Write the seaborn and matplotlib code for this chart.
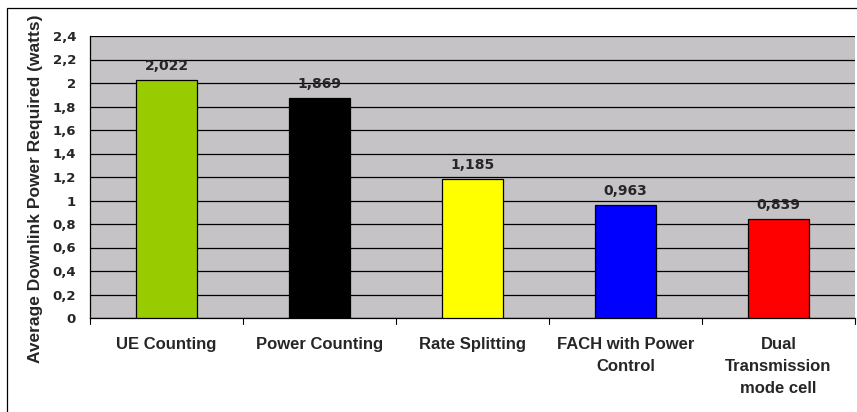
import matplotlib
matplotlib.use("Agg")
import matplotlib.pyplot as plt
import seaborn as sns
import pandas as pd
from matplotlib.patches import Rectangle

categories = ["UE Counting", "Power Counting", "Rate Splitting",
              "FACH with Power\nControl", "Dual\nTransmission\nmode cell"]
values = [2.022, 1.869, 1.185, 0.963, 0.839]
bar_colors = ["#99CC00", "#000000", "#FFFF00", "#0000FF", "#FF0000"]
value_labels = ["2,022", "1,869", "1,185", "0,963", "0,839"]
y_ticks = [0, 0.2, 0.4, 0.6, 0.8, 1.0, 1.2, 1.4, 1.6, 1.8, 2.0, 2.2, 2.4]
y_tick_labels = ["0", "0,2", "0,4", "0,6", "0,8", "1", "1,2", "1,4",
                 "1,6", "1,8", "2", "2,2", "2,4"]

sns.set_style("white")
plt.rcParams["font.family"] = ["Liberation Sans", "DejaVu Sans"]
num_font = ["DejaVu Sans"]

df = pd.DataFrame({"method": categories, "power": values})

fig = plt.figure(figsize=(8.57, 4.12), dpi=100)
ax = fig.add_axes([90 / 857, 1 - 318 / 412, (855 - 90) / 857, (318 - 36) / 412])
ax.set_facecolor("#C6C3C6")

sns.barplot(data=df, x="method", y="power", hue="method", palette=bar_colors,
            legend=False, width=0.4, edgecolor="black", linewidth=0.9,
            saturation=1, ax=ax, zorder=3)

ax.set_ylim(0, 2.4)
ax.set_xlim(-0.5, len(categories) - 0.5)
ax.set_yticks(y_ticks)
ax.set_yticklabels(y_tick_labels, fontsize=9.5, fontweight="bold",
                   family=num_font)
ax.set_xticks(range(len(categories)))
ax.set_xticklabels(categories, fontsize=12, fontweight="bold",
                   linespacing=1.6)
ax.tick_params(axis="x", length=0, pad=13.5)
ax.tick_params(axis="y", length=5, width=0.8, color="black", pad=5)

# category separator ticks on the x axis
for b in range(len(categories) + 1):
    ax.plot([b - 0.5, b - 0.5], [0, -0.05], color="black", lw=0.8,
            clip_on=False, zorder=4)

ax.yaxis.grid(True, color="black", linewidth=0.9, zorder=1)
ax.set_axisbelow(True)
for side in ["top", "right"]:
    ax.spines[side].set_visible(False)
for side in ["left", "bottom"]:
    ax.spines[side].set_color("black")
    ax.spines[side].set_linewidth(0.9)

ax.set_xlabel("")
ax.set_ylabel("")
fig.text(35.5 / 857, 1 - 188.5 / 412, "Average Downlink Power Required (watts)",
         rotation=90, ha="center", va="center", fontsize=12.5,
         fontweight="bold")

for i, (v, lab) in enumerate(zip(values, value_labels)):
    ax.text(i, v + 0.085, lab, ha="center", va="baseline", fontsize=10,
            fontweight="bold", family=num_font, zorder=5)

# outer chart frame
fig.patches.append(Rectangle((7 / 857, -0.05), 1.1, 1 - 8 / 412 + 0.05,
                             transform=fig.transFigure, fill=False,
                             edgecolor="black", linewidth=0.9))

fig.savefig("out.png", dpi=100, facecolor="white")
